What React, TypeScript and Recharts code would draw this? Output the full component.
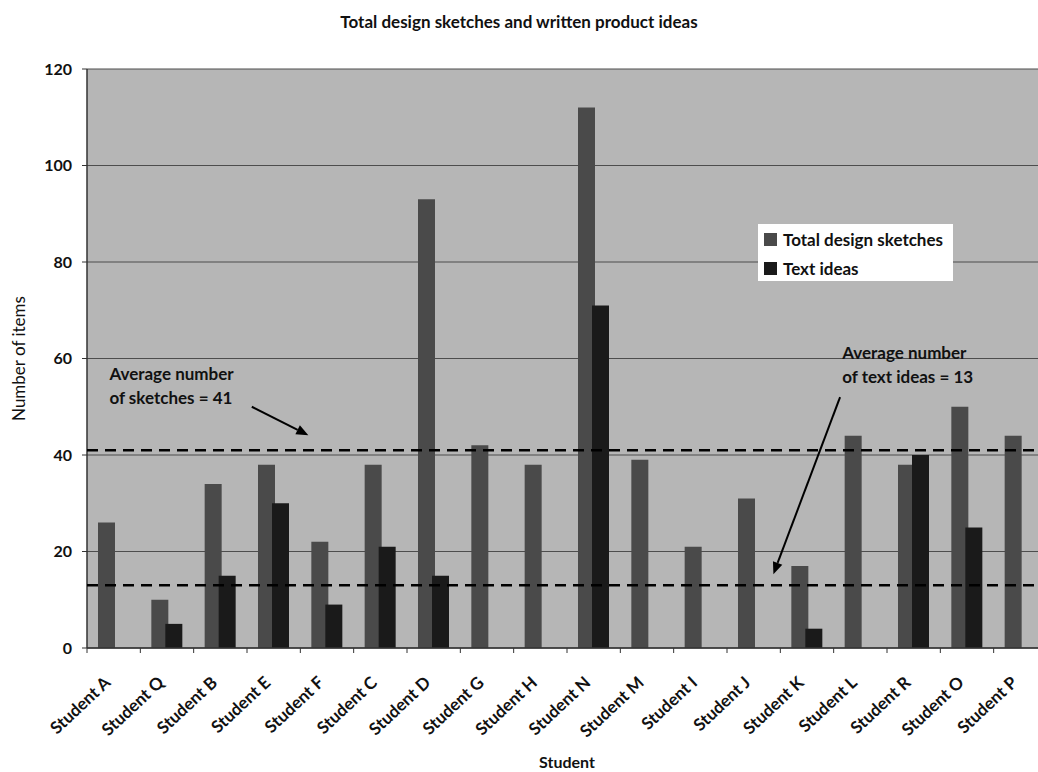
import React from 'react';
import {
  BarChart,
  Bar,
  XAxis,
  YAxis,
  CartesianGrid,
  Legend,
  ReferenceLine,
  ReferenceDot,
} from 'recharts';

// Students in the order they appear along the axis
const students = [
  'Student A', 'Student Q', 'Student B', 'Student E', 'Student F', 'Student C',
  'Student D', 'Student G', 'Student H', 'Student N', 'Student M', 'Student I',
  'Student J', 'Student K', 'Student L', 'Student R', 'Student O', 'Student P',
];

// Total design sketches per student
const sketchCounts = [26, 10, 34, 38, 22, 38, 93, 42, 38, 112, 39, 21, 31, 17, 44, 38, 50, 44];

// Written (text) product ideas per student
const textIdeaCounts = [0, 5, 15, 30, 9, 21, 15, 0, 0, 71, 0, 0, 0, 4, 0, 40, 25, 0];

const seriesNames = ['Total design sketches', 'Text ideas'];

const yTicks = [0, 20, 40, 60, 80, 100, 120];

const avgSketches = 41;
const avgTextIdeas = 13;

const FONT = 'Lato, "Open Sans", sans-serif';
const INK = '#111';
const SKETCH_FILL = '#4a4a4a';
const TEXT_FILL = '#1a1a1a';

// Chart layout
const CHART_W = 1060;
const CHART_H = 772;
const MARGIN = { top: 69, right: 13, bottom: 24, left: 27 };
const Y_AXIS_W = 60;
const PLOT_W = CHART_W - MARGIN.left - MARGIN.right - Y_AXIS_W;

// slot = position of each student's band centre on the continuous overlay axis
const data = students.map((name, i) => ({
  name,
  slot: i + 0.5,
  sketches: sketchCounts[i],
  textIdeas: textIdeaCounts[i],
}));

const SLOT_MAX = students.length;

// Rotated category label plus a tick mark on the left boundary of each band
const StudentTick = (props: any) => {
  const { x, y, payload } = props;
  const half = payload && typeof payload.offset === 'number' && payload.offset > 0 ? payload.offset : 26.67;
  const tx = x - 2;
  const ty = y + 36;
  return (
    <g>
      <line x1={x - half} y1={y} x2={x - half} y2={y + 5} stroke="#333" strokeWidth={1} />
      <text
        x={tx}
        y={ty}
        transform={`rotate(-43, ${tx}, ${ty})`}
        textAnchor="end"
        fontFamily={FONT}
        fontSize={17}
        fontWeight={700}
        fill={INK}
      >
        {payload.value}
      </text>
    </g>
  );
};

// Arrow used to point annotations at the average lines
const ArrowShape = (props: any) => {
  const { x1, y1, x2, y2 } = props;
  if ([x1, y1, x2, y2].some((v) => typeof v !== 'number' || isNaN(v))) return <g />;
  const dx = x2 - x1;
  const dy = y2 - y1;
  const len = Math.sqrt(dx * dx + dy * dy) || 1;
  const ux = dx / len;
  const uy = dy / len;
  const headLen = 12;
  const headHalf = 5;
  const bx = x2 - ux * headLen;
  const by = y2 - uy * headLen;
  const pts = `${x2},${y2} ${bx - uy * headHalf},${by + ux * headHalf} ${bx + uy * headHalf},${by - ux * headHalf}`;
  return (
    <g>
      <line x1={x1} y1={y1} x2={bx} y2={by} stroke="#000" strokeWidth={2} />
      <polygon points={pts} fill="#000" />
    </g>
  );
};

// Dashed average line, starting at the left edge of the plot and running across it
const AvgLineShape = (props: any) => {
  const { cx, cy } = props;
  if (typeof cx !== 'number' || typeof cy !== 'number') return <g />;
  return (
    <path
      d={`M${cx},${cy}H${cx + PLOT_W}`}
      fill="none"
      stroke="#000"
      strokeWidth={2.5}
      strokeDasharray="11 7"
      strokeDashoffset={0}
    />
  );
};

// Two-line annotation text anchored at a data point
const makeNote = (first: string, second: string) => (props: any) => {
  const { cx, cy } = props;
  if (typeof cx !== 'number' || typeof cy !== 'number') return <g />;
  return (
    <text x={cx} y={cy} fontFamily={FONT} fontSize={17} fontWeight={700} fill={INK}>
      <tspan x={cx} dy={0}>{first}</tspan>
      <tspan x={cx} dy={24}>{second}</tspan>
    </text>
  );
};

const LegendBox = (props: any) => {
  const items = ((props.payload || []) as any[])
    .slice()
    .sort((a, b) => seriesNames.indexOf(a.value) - seriesNames.indexOf(b.value));
  return (
    <div
      style={{
        background: '#fff',
        width: 195,
        height: 57,
        boxSizing: 'border-box',
        padding: '1px 0 0 6px',
        fontFamily: FONT,
        fontSize: 17,
        fontWeight: 700,
        color: INK,
      }}
    >
      {items.map((entry) => (
        <div key={entry.value} style={{ display: 'flex', alignItems: 'center', height: 29 }}>
          <span
            style={{
              display: 'inline-block',
              width: 13,
              height: 13,
              background: entry.color,
              marginRight: 6,
            }}
          />
          <span>{entry.value}</span>
        </div>
      ))}
    </div>
  );
};

const YTitle = (props: any) => {
  const vb = props.viewBox || { x: 27, y: 69, width: 60, height: 579 };
  const cx = 18;
  const cy = vb.y + vb.height / 2;
  return (
    <text
      x={cx}
      y={cy}
      transform={`rotate(-90, ${cx}, ${cy})`}
      textAnchor="middle"
      dominantBaseline="central"
      fontFamily={FONT}
      fontSize={17}
      fill={INK}
    >
      Number of items
    </text>
  );
};

const XTitle = (props: any) => {
  const vb = props.viewBox || { x: 87, y: 648, width: 960, height: 100 };
  return (
    <text
      x={vb.x + vb.width / 2}
      y={768}
      textAnchor="middle"
      fontFamily={FONT}
      fontSize={16}
      fontWeight={700}
      fill={INK}
    >
      Student
    </text>
  );
};

export default function App() {
  return (
    <div
      style={{
        position: 'absolute',
        left: 0,
        top: 0,
        width: 1038,
        height: 772,
        overflow: 'hidden',
        background: '#fff',
      }}
    >
      <div
        style={{
          position: 'absolute',
          top: 11,
          left: 0,
          width: 1038,
          textAlign: 'center',
          fontFamily: FONT,
          fontSize: 17,
          fontWeight: 700,
          color: INK,
          zIndex: 2,
        }}
      >
        Total design sketches and written product ideas
      </div>
      <BarChart
        width={CHART_W}
        height={CHART_H}
        data={data}
        margin={MARGIN}
        barGap={-3}
        barCategoryGap="18%"
      >
        <CartesianGrid vertical={false} stroke="#4d4d4d" fill="#b6b6b6" />
        <XAxis
          xAxisId="cat"
          dataKey="name"
          interval={0}
          tickSize={0}
          tickMargin={0}
          tickLine={false}
          axisLine={{ stroke: '#333', strokeWidth: 1.5 }}
          height={100}
          tick={<StudentTick />}
          label={(p: any) => <XTitle {...p} />}
        />
        <XAxis
          xAxisId="pos"
          dataKey="slot"
          type="number"
          domain={[0, SLOT_MAX]}
          allowDataOverflow
          hide
        />
        <YAxis
          domain={[0, 120]}
          ticks={yTicks}
          interval={0}
          width={Y_AXIS_W}
          tickSize={5}
          tickMargin={10}
          axisLine={{ stroke: '#333', strokeWidth: 1.5 }}
          tickLine={{ stroke: '#333' }}
          tick={{ fontFamily: FONT, fontSize: 16, fontWeight: 700, fill: INK }}
          label={(p: any) => <YTitle {...p} />}
        />
        <Legend
          layout="vertical"
          align="center"
          verticalAlign="middle"
          wrapperStyle={{ left: 758, top: 224, width: 195 }}
          content={<LegendBox />}
        />
        <Bar
          xAxisId="cat"
          dataKey="sketches"
          name={seriesNames[0]}
          fill={SKETCH_FILL}
          barSize={17}
          isAnimationActive={false}
        />
        <Bar
          xAxisId="cat"
          dataKey="textIdeas"
          name={seriesNames[1]}
          fill={TEXT_FILL}
          barSize={17}
          isAnimationActive={false}
        />
        <ReferenceLine
          xAxisId="pos"
          segment={[{ x: 3.09, y: 50 }, { x: 4.15, y: 44.1 }]}
          shape={(p: any) => <ArrowShape {...p} />}
        />
        <ReferenceLine
          xAxisId="pos"
          segment={[{ x: 14.12, y: 52 }, { x: 12.87, y: 15.3 }]}
          shape={(p: any) => <ArrowShape {...p} />}
        />
        <ReferenceDot
          xAxisId="pos"
          x={0.42}
          y={55.5}
          r={0}
          shape={makeNote('Average number', `of sketches = ${avgSketches}`)}
        />
        <ReferenceDot
          xAxisId="pos"
          x={14.16}
          y={60}
          r={0}
          shape={makeNote('Average number', `of text ideas = ${avgTextIdeas}`)}
        />
        <ReferenceDot xAxisId="pos" x={0} y={avgSketches} r={0} shape={AvgLineShape} />
        <ReferenceDot xAxisId="pos" x={0} y={avgTextIdeas} r={0} shape={AvgLineShape} />
      </BarChart>
    </div>
  );
}
